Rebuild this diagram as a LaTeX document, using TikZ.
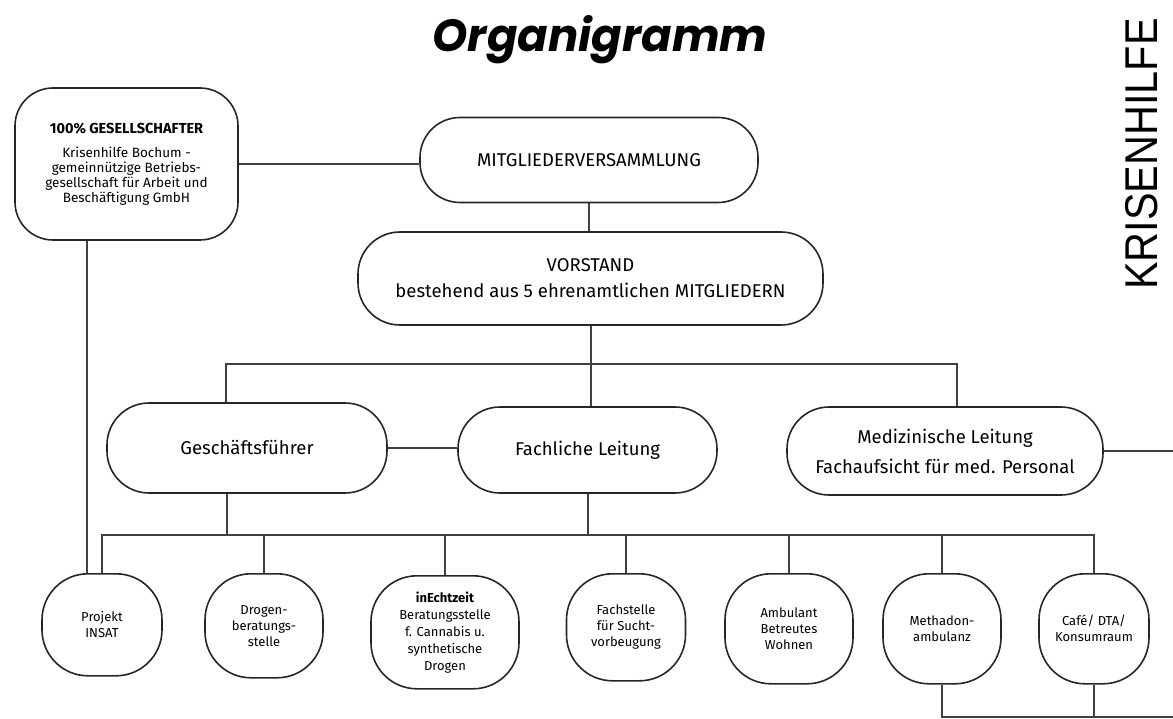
\documentclass[tikz,border=0pt]{standalone}
\usepackage{fontspec}
\setmainfont{Fira Sans}
\newfontfamily\titlefont{Poppins}
\newfontfamily\logofont{Liberation Sans}[FakeStretch=0.9]
\usepackage{xcolor}
\usepackage{tikz}
\usetikzlibrary{positioning, calc}

\begin{document}
\begin{tikzpicture}[x=1pt, y=-1pt,
    box/.style={draw=black!85, line width=1.6pt, align=center, inner sep=0pt, font=\fontsize{18.5}{26}\selectfont},
    unit/.style={draw=black!85, line width=1.6pt, align=center, inner sep=0pt, rounded corners=46pt, minimum width=120pt, minimum height=106pt, anchor=north, font=\fontsize{13}{16}\selectfont},
    link/.style={draw=black!75, line width=2pt}]
    \useasboundingbox (0,0) rectangle (1173,719);
    \node[anchor=base, font=\titlefont\fontsize{45}{48}\selectfont\bfseries\itshape] (title) at (600,52) {Organigramm};
    \node[rotate=90, anchor=base west, inner sep=0pt, font=\logofont\fontsize{46}{46}\selectfont] (logo) at (1157,290) {KRISENHILFE};
    \node[box, rounded corners=38pt, minimum width=223pt, minimum height=152pt, font=\fontsize{13.5}{15}\selectfont] (node1_1) at (126.5,164) {{\fontsize{14.5}{15}\selectfont\bfseries 100\% GESELLSCHAFTER}\\[9pt]Krisenhilfe Bochum -\\gemeinnützige Betriebs-\\gesellschaft für Arbeit und\\Beschäftigung GmbH};
    \node[box, rounded corners=40pt, minimum width=338pt, minimum height=85pt] (node1_2) at (589,160) {MITGLIEDERVERSAMMLUNG};
    \node[box, rounded corners=42pt, minimum width=465pt, minimum height=93pt] (node2_1) at (590.5,278.5) {VORSTAND\\bestehend aus 5 ehrenamtlichen MITGLIEDERN};
    \node[box, rounded corners=42pt, minimum width=280pt, minimum height=90pt] (node3_1) at (247,448) {Geschäftsführer};
    \node[box, rounded corners=42pt, minimum width=259pt, minimum height=86pt] (node3_2) at (587.5,450) {Fachliche Leitung};
    \node[box, rounded corners=42pt, minimum width=316pt, minimum height=88pt, font=\fontsize{18.5}{30}\selectfont] (node3_3) at (945,451) {Medizinische Leitung\\Fachaufsicht für med. Personal};
    \node[unit, minimum height=102pt] (node4_1) at (102,573) {Projekt\\INSAT};
    \node[unit, minimum width=118pt, minimum height=104pt] (node4_2) at (264,573) {Drogen-\\beratungs-\\stelle};
    \node[unit, minimum width=148pt, minimum height=113pt, font=\fontsize{13}{17}\selectfont] (node4_3) at (445,575) {\textbf{inEchtzeit}\\Beratungsstelle\\f. Cannabis u.\\synthetische\\Drogen};
    \node[unit, minimum width=119pt, minimum height=107pt] (node4_4) at (626,573) {Fachstelle\\für Sucht-\\vorbeugung};
    \node[unit, minimum width=128pt, minimum height=110pt] (node4_5) at (789,573) {Ambulant\\Betreutes\\Wohnen};
    \node[unit, minimum width=118pt, minimum height=110pt] (node4_6) at (942,573) {Methadon-\\ambulanz};
    \node[unit, minimum width=110pt, minimum height=110pt] (node4_7) at (1094,573) {Café/ DTA/\\Konsumraum};
    \coordinate (bus1) at (0,364);
    \coordinate (bus2) at (0,535);
    \coordinate (bus3) at (1173,717);
    \coordinate (edge1) at (1173,450);
    \draw[link] (node1_1.east) -- (node1_1.east -| node1_2.west);
    \draw[link] (node1_2.south) -- (node1_2.south |- node2_1.north);
    \draw[link] (node2_1.south) -- (node2_1.south |- node3_2.north);
    \draw[link] ([xshift=-21pt]node3_1.north) -- ([xshift=-21pt]node3_1.north |- bus1) -- ([xshift=12pt]node3_3.north |- bus1) -- ([xshift=12pt]node3_3.north);
    \draw[link] (node3_1.east) -- (node3_1.east -| node3_2.west);
    \draw[link] (node3_3.east) -- (node3_3.east -| edge1);
    \draw[link] ([xshift=-20pt]node3_1.south) -- ([xshift=-20pt]node3_1.south |- bus2);
    \draw[link] (node3_2.south) -- (node3_2.south |- bus2);
    \draw[link] (node4_1.north) -- (node4_1.north |- bus2) -- (node4_7.north |- bus2) -- (node4_7.north);
    \draw[link] (node4_2.north) -- (node4_2.north |- bus2);
    \draw[link] (node4_3.north) -- (node4_3.north |- bus2);
    \draw[link] (node4_4.north) -- (node4_4.north |- bus2);
    \draw[link] (node4_5.north) -- (node4_5.north |- bus2);
    \draw[link] (node4_6.north) -- (node4_6.north |- bus2);
    \draw[link] ([xshift=-39.5pt]node1_1.south) -- ([xshift=-39.5pt]node1_1.south |- node4_1.north);
    \draw[link] (node4_6.south) -- (node4_6.south |- bus3) -- (bus3);
    \draw[link] (node4_7.south) -- (node4_7.south |- bus3);
\end{tikzpicture}
\end{document}
